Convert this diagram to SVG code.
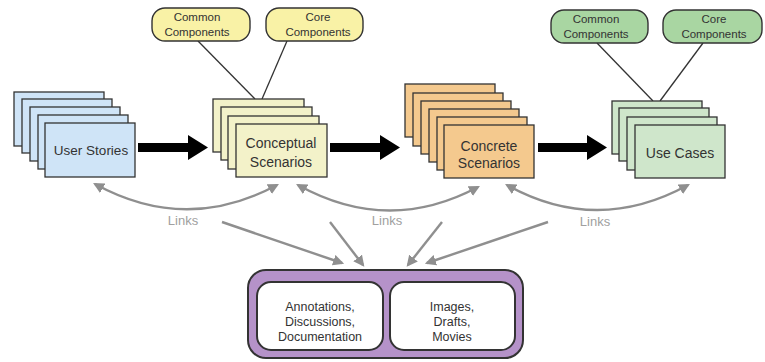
<svg xmlns="http://www.w3.org/2000/svg" width="765" height="362" viewBox="0 0 765 362">
<defs>
<style>
.t{font-family:"Liberation Sans",Arial,sans-serif;fill:#333;text-anchor:middle}
.sheet{stroke:#333;stroke-width:1.3}
.blue{fill:#cfe4f7}
.pale{fill:#f3f2c9}
.orange{fill:#f4c98e}
.lgreen{fill:#cfe6cb}
.bub{stroke:#333;stroke-width:1.4}
.ybub{fill:#f9f2a6}
.gbub{fill:#a9d6a2}
.tie{stroke:#333;stroke-width:1.3;fill:none}
.big{fill:#000}
.gray{stroke:#8f8f8f;stroke-width:2.4;fill:none}
.lk{font-family:"Liberation Sans",Arial,sans-serif;fill:#a0a0a0;font-size:13px;text-anchor:middle}
</style>
<marker id="ga" viewBox="0 0 10 10" refX="8" refY="5" markerWidth="4.6" markerHeight="4.6" orient="auto-start-reverse" markerUnits="strokeWidth">
<path d="M0,0 L10,5 L0,10 z" fill="#8f8f8f"/>
</marker>
</defs>

<g id="connectors">
<line class="tie" x1="198" y1="41" x2="255" y2="99"/>
<line class="tie" x1="287" y1="41" x2="262" y2="99"/>
<line class="tie" x1="597" y1="43" x2="653" y2="101"/>
<line class="tie" x1="703" y1="43" x2="660" y2="101"/>
<path class="big" d="M138,143 H188 V135 L208,147.5 L188,160 V152 H138 Z"/>
<path class="big" d="M330,143 H380 V135 L400,147.5 L380,160 V152 H330 Z"/>
<path class="big" d="M538,143 H587 V135 L607,147.5 L587,160 V152 H538 Z"/>
<path class="gray" d="M95,184 Q186,234 277,185" marker-start="url(#ga)" marker-end="url(#ga)"/>
<path class="gray" d="M298,185 Q388,235 478,187" marker-start="url(#ga)" marker-end="url(#ga)"/>
<path class="gray" d="M507,185 Q597,235 688,185" marker-start="url(#ga)" marker-end="url(#ga)"/>
<line class="gray" x1="222" y1="222" x2="342" y2="263" marker-end="url(#ga)"/>
<line class="gray" x1="330" y1="222" x2="363" y2="265" marker-end="url(#ga)"/>
<line class="gray" x1="442" y1="222" x2="408" y2="265" marker-end="url(#ga)"/>
<line class="gray" x1="548" y1="222" x2="427" y2="263" marker-end="url(#ga)"/>
<text class="lk" x="183" y="225">Links</text>
<text class="lk" x="387" y="225">Links</text>
<text class="lk" x="595" y="226">Links</text>
</g>

<g id="common-yellow">
<rect class="bub ybub" x="152" y="8" width="98" height="33" rx="13"/>
<text class="t" x="197" y="21" font-size="11.5">Common</text>
<text class="t" x="197" y="36" font-size="11.5">Components</text>
</g>
<g id="core-yellow">
<rect class="bub ybub" x="266" y="8" width="97" height="33" rx="13"/>
<text class="t" x="318" y="21" font-size="11.5">Core</text>
<text class="t" x="318" y="36" font-size="11.5">Components</text>
</g>
<g id="common-green">
<rect class="bub gbub" x="551" y="10" width="97" height="33" rx="13"/>
<text class="t" x="596" y="23" font-size="11.5">Common</text>
<text class="t" x="596" y="38" font-size="11.5">Components</text>
</g>
<g id="core-green">
<rect class="bub gbub" x="663" y="10" width="99" height="33" rx="13"/>
<text class="t" x="714" y="23" font-size="11.5">Core</text>
<text class="t" x="714" y="38" font-size="11.5">Components</text>
</g>

<g id="user-stories">
<rect class="sheet blue" x="14" y="92" width="90" height="54"/>
<rect class="sheet blue" x="22" y="99" width="90" height="54"/>
<rect class="sheet blue" x="30" y="107" width="90" height="54"/>
<rect class="sheet blue" x="38" y="115" width="90" height="54"/>
<rect class="sheet blue" x="45" y="123" width="90" height="54"/>
<text class="t" x="91" y="155" font-size="13.5">User Stories</text>
</g>

<g id="conceptual-scenarios">
<rect class="sheet pale" x="213" y="99" width="91" height="53"/>
<rect class="sheet pale" x="221" y="107" width="91" height="53"/>
<rect class="sheet pale" x="228" y="116" width="91" height="53"/>
<rect class="sheet pale" x="236" y="124" width="91" height="53"/>
<text class="t" x="281" y="148" font-size="14">Conceptual</text>
<text class="t" x="281" y="167" font-size="14">Scenarios</text>
</g>

<g id="concrete-scenarios">
<rect class="sheet orange" x="405" y="84" width="90" height="53"/>
<rect class="sheet orange" x="413" y="93" width="90" height="53"/>
<rect class="sheet orange" x="421" y="101" width="90" height="53"/>
<rect class="sheet orange" x="429" y="109" width="90" height="53"/>
<rect class="sheet orange" x="437" y="117" width="90" height="53"/>
<rect class="sheet orange" x="444" y="125" width="90" height="53"/>
<text class="t" x="489" y="151" font-size="14">Concrete</text>
<text class="t" x="489" y="168" font-size="14">Scenarios</text>
</g>

<g id="use-cases">
<rect class="sheet lgreen" x="612" y="101" width="90" height="53"/>
<rect class="sheet lgreen" x="619" y="108" width="90" height="53"/>
<rect class="sheet lgreen" x="627" y="117" width="90" height="53"/>
<rect class="sheet lgreen" x="635" y="125" width="90" height="53"/>
<text class="t" x="680" y="158" font-size="14">Use Cases</text>
</g>

<g id="resources">
<rect x="248" y="270" width="275" height="88" rx="18" fill="#b592c9" stroke="#333" stroke-width="2"/>
<rect x="257" y="282" width="126" height="68" rx="14" fill="#fff" stroke="#333" stroke-width="2"/>
<rect x="390" y="282" width="125" height="68" rx="14" fill="#fff" stroke="#333" stroke-width="2"/>
<text class="t" x="320" y="311" font-size="12.5">Annotations,</text>
<text class="t" x="320" y="326" font-size="12.5">Discussions,</text>
<text class="t" x="320" y="341" font-size="12.5">Documentation</text>
<text class="t" x="452" y="311" font-size="12.5">Images,</text>
<text class="t" x="452" y="326" font-size="12.5">Drafts,</text>
<text class="t" x="452" y="341" font-size="12.5">Movies</text>
</g>
</svg>
